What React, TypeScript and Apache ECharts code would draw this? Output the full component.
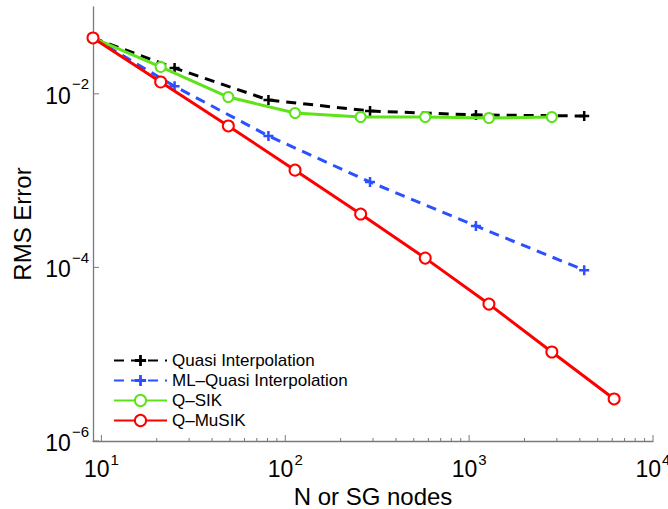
import React, { useEffect, useRef } from 'react';
import * as echarts from 'echarts';

// Node counts
const nSparse = [9, 21, 49, 113, 257, 577, 1281, 2817, 6145];
const nFull = [9, 25, 81, 289, 1089, 4225];

// RMS errors
const quasiErr = [0.044, 0.0198, 0.00849, 0.00634, 0.0057, 0.00555];
const mlQuasiErr = [0.044, 0.0122, 0.00327, 0.000964, 0.0003, 0.000093];
const qsikErr = [0.044, 0.0204, 0.00918, 0.00601, 0.00541, 0.00541, 0.00526, 0.00541];
const qmusikErr = [0.044, 0.01368, 0.00426, 0.00132, 0.000412, 0.000128, 0.0000378, 0.0000106, 0.00000305];

// Axis ticks
const xMajorTicks = [10, 100, 1000, 10000];
const xMinorTicks = [20, 30, 40, 50, 60, 70, 80, 90, 200, 300, 400, 500, 600, 700, 800, 900, 2000, 3000, 4000, 5000, 6000, 7000, 8000, 9000];
const yMajorTicks = [1e-6, 1e-4, 1e-2];
const xLabelExps = [1, 2, 3, 4];
const yLabelExps = [-6, -4, -2];

const X_MIN = 9;
const X_MAX = 10000;
const Y_MIN = 1e-6;
const Y_MAX = 0.1;

const FONT = 'Liberation Sans, Arial, Helvetica, sans-serif';
const AXIS_COLOR = '#7a7a7a';
const PLUS = 'path://M3,0H5V3H8V5H5V8H3V5H0V3H3Z';

function supLabel(v: number, allowed: number[]) {
  const e = Math.log10(v);
  const r = Math.round(e);
  if (Math.abs(e - r) > 1e-6 || allowed.indexOf(r) < 0) return '';
  return `{b|10}{s|${r < 0 ? '\u2212' : ''}${Math.abs(r)}}`;
}

const richX = {
  b: { fontSize: 23, fontFamily: FONT, color: '#000', verticalAlign: 'bottom', padding: [5, 0, 0, 0] },
  s: { fontSize: 15, fontFamily: FONT, color: '#000', verticalAlign: 'top', padding: [0, 0, 0, 1] },
};
const richY = {
  b: { fontSize: 23, fontFamily: FONT, color: '#000', verticalAlign: 'bottom', padding: [8, 0, 4, 0] },
  s: { fontSize: 15, fontFamily: FONT, color: '#000', verticalAlign: 'top', padding: [0, 0, 0, 1] },
};

export default function App() {
  const ref = useRef<HTMLDivElement>(null);
  useEffect(() => {
    if (!ref.current) return;
    const chart = echarts.init(ref.current, null, { renderer: 'svg' });
    const pair = (xs: number[], ys: number[]) => ys.map((y, i) => [xs[i], y]);

    const xTickData = [
      ...xMajorTicks.map((v) => [v, Y_MIN, 6]),
      ...xMinorTicks.map((v) => [v, Y_MIN, 3]),
    ];
    const yTickData = yMajorTicks.map((v) => [X_MIN, v, 6]);

    chart.setOption({
      animation: false,
      backgroundColor: '#fff',
      grid: { left: 93, right: 15, top: 7, bottom: 68, containLabel: false, outerBoundsMode: 'none' },
      xAxis: {
        type: 'log',
        logBase: 10,
        min: X_MIN,
        max: X_MAX,
        name: 'N or SG nodes',
        nameLocation: 'middle',
        nameGap: 40,
        nameTextStyle: { fontSize: 24, fontFamily: FONT, color: '#000' },
        axisLine: { lineStyle: { color: AXIS_COLOR, width: 1.3 } },
        axisTick: { show: false },
        splitLine: { show: false },
        minorTick: { show: false },
        axisLabel: {
          margin: 11,
          formatter: (v: number) => supLabel(v, xLabelExps),
          rich: richX,
          showMinLabel: true,
          showMaxLabel: true,
        },
      },
      yAxis: {
        type: 'log',
        logBase: 10,
        min: Y_MIN,
        max: Y_MAX,
        interval: 1,
        name: 'RMS Error',
        nameLocation: 'middle',
        nameGap: 59,
        nameTextStyle: { fontSize: 24, fontFamily: FONT, color: '#000' },
        axisLine: { lineStyle: { color: AXIS_COLOR, width: 1.3 } },
        axisTick: { show: false },
        splitLine: { show: false },
        axisLabel: {
          margin: 4,
          formatter: (v: number) => supLabel(v, yLabelExps),
          rich: richY,
        },
      },
      legend: {
        data: ['Quasi Interpolation', 'ML\u2013Quasi Interpolation', 'Q\u2013SIK', 'Q\u2013MuSIK'],
        orient: 'vertical',
        left: 113,
        top: 352,
        padding: 0,
        itemWidth: 53,
        itemHeight: 14,
        itemGap: 3,
        textStyle: { fontSize: 17, fontFamily: FONT, color: '#000' },
      },
      series: [
        {
          type: 'custom',
          name: 'xticks',
          coordinateSystem: 'cartesian2d',
          silent: true,
          clip: false,
          z: 1,
          encode: { x: 0, y: 1 },
          data: xTickData,
          renderItem: (params: any, api: any) => {
            const p = api.coord([api.value(0), api.value(1)]);
            const len = api.value(2);
            return {
              type: 'line',
              shape: { x1: p[0], y1: p[1], x2: p[0], y2: p[1] - len },
              style: { stroke: AXIS_COLOR, lineWidth: 1 },
            };
          },
        },
        {
          type: 'custom',
          name: 'yticks',
          coordinateSystem: 'cartesian2d',
          silent: true,
          clip: false,
          z: 1,
          encode: { x: 0, y: 1 },
          data: yTickData,
          renderItem: (params: any, api: any) => {
            const p = api.coord([api.value(0), api.value(1)]);
            const len = api.value(2);
            return {
              type: 'line',
              shape: { x1: p[0], y1: p[1], x2: p[0] + len, y2: p[1] },
              style: { stroke: AXIS_COLOR, lineWidth: 1 },
            };
          },
        },
        {
          type: 'line',
          name: 'Quasi Interpolation',
          data: pair(nFull, quasiErr),
          symbol: PLUS,
          symbolSize: 10,
          color: '#000000',
          itemStyle: { color: '#000000' },
          lineStyle: { color: '#000000', width: 3, type: [10, 7] },
          z: 3,
        },
        {
          type: 'line',
          name: 'ML\u2013Quasi Interpolation',
          data: pair(nFull, mlQuasiErr),
          symbol: PLUS,
          symbolSize: 10,
          color: '#2b50ff',
          itemStyle: { color: '#2b50ff' },
          lineStyle: { color: '#2b50ff', width: 3, type: [10, 7] },
          z: 4,
        },
        {
          type: 'line',
          name: 'Q\u2013SIK',
          data: pair(nSparse, qsikErr),
          symbol: 'emptyCircle',
          symbolSize: 10,
          color: '#5ee31a',
          itemStyle: { color: '#5ee31a', borderWidth: 2.5 },
          lineStyle: { color: '#5ee31a', width: 3 },
          z: 5,
        },
        {
          type: 'line',
          name: 'Q\u2013MuSIK',
          data: pair(nSparse, qmusikErr),
          symbol: 'emptyCircle',
          symbolSize: 11,
          color: '#ff0000',
          itemStyle: { color: '#ff0000', borderWidth: 2.5 },
          lineStyle: { color: '#ff0000', width: 3 },
          z: 6,
        },
      ],
    });
    return () => chart.dispose();
  }, []);
  return (
    <div
      ref={ref}
      style={{ position: 'fixed', left: 0, top: 0, width: 668, height: 509, background: '#fff' }}
    />
  );
}
